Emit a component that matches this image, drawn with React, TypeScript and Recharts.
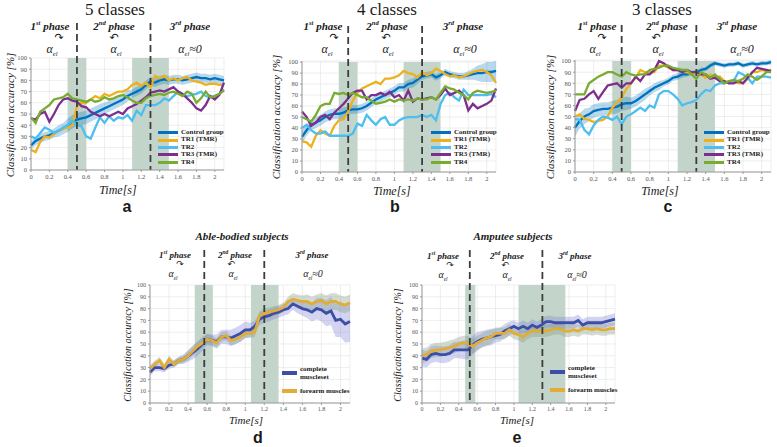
import React from "react";
import {
  ComposedChart,
  Line,
  Area,
  XAxis,
  YAxis,
  CartesianGrid,
  ReferenceArea,
  ReferenceLine,
  Legend,
} from "recharts";

const FONT = '"Liberation Serif", "DejaVu Serif", serif';

// time axis, seconds
const time = [
  0, 0.05, 0.1, 0.15, 0.2, 0.25, 0.3, 0.35, 0.4, 0.45, 0.5, 0.55, 0.6, 0.65, 0.7, 0.75, 0.8, 0.85, 0.9, 0.95, 1,
  1.05, 1.1, 1.15, 1.2, 1.25, 1.3, 1.35, 1.4, 1.45, 1.5, 1.55, 1.6, 1.65, 1.7, 1.75, 1.8, 1.85, 1.9, 1.95, 2, 2.05, 2.1,
];
const xTicks = [0, 0.2, 0.4, 0.6, 0.8, 1, 1.2, 1.4, 1.6, 1.8, 2];
const yTicks = [0, 10, 20, 30, 40, 50, 60, 70, 80, 90, 100];

// 5 classes
const aControl = [22, 26, 28, 30, 31, 33, 35, 37, 40, 43, 45, 46, 47, 49, 51, 53, 55, 57, 59, 61, 63, 66, 68, 70, 72, 76, 79, 78, 80, 81, 80, 81, 81, 80, 81, 82, 83, 82, 82, 81, 82, 81, 80];
const aControlSpread = [4, 4, 4, 4, 4, 4, 5, 5, 6, 6, 6, 6, 6, 6, 6, 6, 5, 5, 5, 5, 5, 5, 4, 4, 4, 4, 4, 4, 4, 4, 4, 4, 4, 4, 4, 4, 4, 4, 4, 4, 4, 4, 4];
const aTR1 = [18, 16, 25, 30, 29, 32, 35, 37, 38, 40, 57, 60, 60, 63, 66, 64, 68, 66, 68, 70, 70, 72, 76, 78, 75, 78, 74, 84, 82, 84, 80, 82, 80, 82, 83, 80, 79, 78, 76, 77, 77, 76, 76];
const aTR2 = [30, 28, 33, 38, 36, 33, 35, 38, 40, 44, 40, 39, 30, 28, 38, 47, 42, 48, 44, 47, 46, 49, 44, 53, 49, 58, 58, 58, 60, 64, 62, 66, 70, 67, 66, 67, 68, 70, 66, 65, 66, 68, 72];
const aTR3 = [46, 45, 50, 52, 43, 50, 58, 63, 64, 62, 61, 57, 56, 52, 50, 48, 50, 48, 50, 52, 50, 55, 57, 59, 62, 65, 69, 70, 71, 70, 72, 74, 70, 68, 64, 60, 55, 53, 58, 66, 63, 67, 78];
const aTR4 = [47, 42, 52, 55, 58, 63, 64, 65, 68, 64, 63, 62, 61, 63, 61, 62, 65, 63, 64, 66, 67, 65, 62, 60, 60, 64, 66, 67, 68, 67, 69, 70, 68, 66, 70, 68, 60, 64, 70, 65, 66, 68, 71];

// 4 classes
const bControl = [32, 38, 43, 45, 47, 50, 52, 53, 53, 54, 56, 57, 57, 58, 60, 63, 66, 68, 70, 72, 74, 77, 77, 80, 81, 84, 87, 88, 89, 86, 88, 91, 89, 88, 87, 87, 88, 89, 90, 90, 91, 91, 92];
const bControlSpread = [6, 5, 5, 5, 5, 5, 5, 5, 5, 5, 4, 4, 4, 4, 4, 4, 4, 4, 4, 4, 4, 4, 4, 4, 4, 4, 3, 3, 3, 3, 3, 3, 3, 3, 3, 3, 4, 5, 7, 8, 9, 9, 9];
const bTR1 = [28, 27, 23, 33, 38, 35, 33, 42, 47, 48, 55, 65, 72, 76, 78, 80, 82, 80, 85, 85, 86, 88, 92, 90, 89, 86, 91, 88, 90, 94, 92, 89, 87, 88, 86, 87, 89, 91, 92, 93, 91, 88, 81];
const bTR2 = [40, 43, 38, 35, 35, 37, 33, 33, 33, 33, 33, 35, 44, 42, 52, 47, 43, 48, 50, 43, 43, 47, 49, 50, 50, 50, 52, 50, 52, 47, 62, 70, 72, 68, 65, 75, 70, 70, 70, 70, 70, 71, 68];
const bTR3 = [55, 50, 42, 45, 50, 52, 48, 54, 58, 62, 67, 72, 74, 74, 66, 70, 70, 72, 70, 73, 68, 70, 65, 74, 64, 67, 66, 67, 68, 66, 70, 76, 70, 72, 74, 70, 56, 62, 58, 60, 62, 65, 76];
const bTR4 = [50, 48, 46, 52, 60, 62, 62, 72, 71, 72, 70, 72, 70, 68, 68, 65, 62, 63, 64, 66, 64, 66, 65, 66, 65, 67, 66, 66, 68, 66, 72, 78, 76, 75, 72, 70, 66, 72, 74, 73, 72, 73, 74];

// 3 classes
const cControl = [40, 46, 50, 52, 55, 56, 57, 57, 58, 59, 61, 62, 62, 64, 67, 70, 73, 76, 78, 80, 82, 85, 86, 88, 88, 89, 90, 92, 93, 96, 98, 97, 96, 97, 97, 98, 96, 97, 98, 97, 98, 98, 99];
const cControlSpread = [8, 7, 7, 6, 6, 6, 6, 6, 6, 6, 6, 6, 5, 5, 5, 5, 4, 4, 4, 3, 3, 3, 3, 3, 2, 2, 2, 2, 2, 2, 2, 2, 2, 2, 2, 2, 2, 2, 2, 2, 2, 2, 2];
const cTR1 = [50, 52, 48, 47, 45, 46, 47, 50, 58, 63, 67, 75, 80, 85, 92, 90, 90, 90, 96, 96, 94, 92, 92, 92, 90, 88, 90, 88, 85, 88, 85, 86, 82, 80, 82, 80, 80, 84, 90, 90, 92, 91, 92];
const cTR2 = [48, 47, 38, 34, 42, 47, 50, 49, 47, 50, 43, 50, 52, 55, 58, 55, 60, 58, 70, 73, 73, 70, 66, 60, 62, 63, 65, 70, 74, 73, 78, 80, 80, 82, 82, 90, 88, 85, 80, 86, 86, 86, 85];
const cTR3 = [55, 65, 66, 70, 73, 66, 72, 78, 79, 80, 76, 80, 80, 86, 82, 88, 88, 92, 100, 98, 95, 92, 92, 90, 92, 90, 90, 88, 88, 84, 85, 82, 82, 80, 80, 82, 80, 85, 90, 94, 93, 92, 91];
const cTR4 = [70, 70, 70, 80, 83, 86, 88, 90, 90, 88, 86, 90, 88, 87, 88, 88, 92, 93, 94, 96, 96, 94, 93, 92, 92, 88, 84, 90, 88, 85, 88, 84, 80, 82, 83, 82, 84, 88, 86, 83, 86, 90, 90];

// able-bodied subjects
const dComplete = [26, 30, 30, 29, 32, 33, 36, 37, 40, 43, 46, 50, 54, 53, 52, 56, 56, 55, 57, 59, 62, 62, 65, 71, 73, 74, 76, 77, 79, 80, 84, 82, 80, 79, 77, 80, 79, 76, 78, 70, 71, 67, 69];
const dCompleteSpread = [3, 3, 3, 3, 3, 3, 3, 4, 5, 6, 6, 6, 5, 5, 6, 6, 6, 7, 7, 7, 7, 6, 5, 5, 5, 5, 5, 5, 5, 5, 5, 6, 6, 7, 8, 9, 10, 11, 12, 14, 15, 16, 17];
const dForearm = [29, 33, 36, 30, 37, 33, 36, 37, 40, 44, 48, 51, 54, 53, 51, 56, 57, 53, 54, 56, 59, 59, 60, 74, 76, 77, 78, 79, 81, 86, 88, 87, 86, 86, 84, 86, 87, 84, 86, 86, 84, 83, 85];
const dForearmSpread = [3, 3, 3, 3, 3, 3, 3, 3, 4, 4, 4, 4, 4, 4, 4, 4, 4, 4, 4, 4, 4, 4, 4, 4, 4, 4, 4, 4, 4, 4, 5, 5, 5, 6, 6, 6, 6, 7, 7, 7, 7, 7, 7];

// amputee subjects
const eComplete = [38, 37, 41, 42, 41, 41, 42, 45, 45, 45, 45, 49, 52, 54, 55, 56, 57, 58, 61, 63, 65, 63, 65, 63, 66, 64, 66, 69, 69, 68, 68, 68, 68, 68, 70, 66, 68, 68, 68, 68, 69, 70, 71];
const eCompleteSpread = [7, 7, 7, 7, 7, 7, 7, 7, 7, 8, 8, 8, 8, 7, 7, 7, 6, 6, 6, 6, 5, 5, 5, 5, 5, 5, 5, 5, 5, 5, 5, 5, 5, 5, 5, 5, 5, 5, 5, 5, 5, 5, 5];
const eForearm = [40, 41, 44, 45, 45, 46, 47, 48, 50, 51, 51, 48, 51, 53, 55, 56, 59, 59, 59, 62, 59, 58, 56, 59, 61, 61, 61, 61, 62, 63, 63, 61, 61, 62, 61, 63, 63, 62, 63, 62, 62, 63, 63];
const eForearmSpread = [6, 6, 6, 6, 6, 6, 6, 6, 6, 6, 6, 6, 6, 6, 6, 6, 5, 5, 5, 5, 5, 5, 5, 5, 5, 5, 5, 5, 5, 5, 5, 5, 5, 5, 5, 5, 5, 5, 5, 5, 5, 5, 5];

const groupNames = ["Control group", "TR1 (TMR)", "TR2", "TR3 (TMR)", "TR4"];
const groupColors = ["#0072BD", "#EDB120", "#4DBEEE", "#7E2F8E", "#77AC30"];
const muscleNames = ["complete\nmuscleset", "forearm muscles"];
const muscleColors = ["#3C4EA8", "#E3AC37"];
const muscleBandColors = ["#7E84D8", "#7F9A80"];

type Series = { name: string; values: number[]; color: string };
type Band = { values: number[]; spread: number[]; color: string; opacity: number };

const YW = 30;
const TOP = 40;
const XH = 16;
const RIGHT = 4;

function Panel(props: {
  plot: [number, number, number, number];
  series: Series[];
  bands: Band[];
  shades: [number, number][];
  dashes: number[];
  legendAt: [number, number];
  lineWidth: number;
  small?: boolean;
}) {
  const [x0, x1, y0, y1] = props.plot;
  const left = x0 - YW;
  const top = y0 - TOP;
  const width = YW + (x1 - x0) + RIGHT;
  const height = TOP + (y1 - y0) + XH;
  const ext = TOP - 5;

  const rows = time.map((t, i) => {
    const r: any = { t };
    props.series.forEach((s, k) => (r["s" + k] = s.values[i]));
    props.bands.forEach((b, k) => (r["b" + k] = [b.values[i] - b.spread[i], b.values[i] + b.spread[i]]));
    return r;
  });

  const tickStyle = { fontSize: props.small ? 6 : 6.5, fill: "#555", fontFamily: FONT };
  const order = props.series.map((s) => s.name);

  const legendContent = (p: any) => {
    const items = (p.payload || [])
      .filter((it: any) => it.type !== "none")
      .sort((a: any, b: any) => order.indexOf(a.value) - order.indexOf(b.value));
    return (
      <div style={{ fontFamily: FONT, fontWeight: 700, fontSize: 7, color: "#222", lineHeight: props.small ? "8px" : "7.4px" }}>
        {items.map((it: any) => (
          <div key={it.value} style={{ display: "flex", alignItems: "center", marginBottom: props.small ? 6 : 0 }}>
            <div style={{ width: props.small ? 15 : 20, height: props.small ? 4 : 3, background: it.color, marginRight: 3, flex: "none" }} />
            <div style={{ whiteSpace: "pre" }}>{it.value}</div>
          </div>
        ))}
      </div>
    );
  };

  return (
    <div style={{ position: "absolute", left, top }}>
      <ComposedChart width={width} height={height} data={rows} margin={{ top: TOP, right: RIGHT, bottom: 0, left: 0 }}>
        <CartesianGrid stroke="#e6e6e6" strokeWidth={0.7} />
        {props.shades.map(([a, b], i) => (
          <ReferenceArea key={"sh" + i} x1={a} x2={b} y1={0} y2={100} fill="#c3d5ca" fillOpacity={1} stroke="none" />
        ))}
        <XAxis
          dataKey="t"
          type="number"
          domain={[0, 2.1]}
          ticks={xTicks}
          interval={0}
          height={XH}
          tick={tickStyle}
          tickSize={2}
          stroke="#9a9a9a"
          tickFormatter={(v: number) => String(v)}
        />
        <YAxis
          type="number"
          domain={[0, 100]}
          ticks={yTicks}
          interval={0}
          width={YW}
          tick={tickStyle}
          tickSize={2}
          stroke="#9a9a9a"
        />
        {props.bands.map((b, i) => (
          <Area
            key={"b" + i}
            dataKey={"b" + i}
            type="linear"
            stroke="none"
            fill={b.color}
            fillOpacity={b.opacity}
            legendType="none"
            dot={false}
            activeDot={false}
            isAnimationActive={false}
          />
        ))}
        {props.series.map((s, i) => (
          <Line
            key={"s" + i}
            dataKey={"s" + i}
            name={s.name}
            type="linear"
            stroke={s.color}
            strokeWidth={props.lineWidth}
            dot={false}
            activeDot={false}
            isAnimationActive={false}
          />
        ))}
        {props.dashes.map((d, i) => (
          <ReferenceLine
            key={"d" + i}
            x={d}
            stroke="#3d3d3d"
            strokeWidth={1.8}
            strokeDasharray="7 4"
            shape={(p: any) => (
              <line
                x1={p.x1}
                x2={p.x2}
                y1={Math.min(p.y1, p.y2) - ext}
                y2={Math.max(p.y1, p.y2)}
                stroke="#3d3d3d"
                strokeWidth={1.8}
                strokeDasharray="7 4"
              />
            )}
          />
        ))}
        <Legend
          layout="vertical"
          align="center"
          verticalAlign="middle"
          content={legendContent}
          wrapperStyle={{ left: props.legendAt[0] - left, top: props.legendAt[1] - top, width: "auto", height: "auto" }}
        />
      </ComposedChart>
    </div>
  );
}

function T(props: { x: number; y: number; size: number; bold?: boolean; italic?: boolean; sans?: boolean; rotate?: boolean; children: React.ReactNode }) {
  return (
    <div
      style={{
        position: "absolute",
        left: props.x,
        top: props.y,
        transform: `translate(-50%, -50%)${props.rotate ? " rotate(-90deg)" : ""}`,
        whiteSpace: "nowrap",
        fontFamily: props.sans ? '"Liberation Sans", Arial, sans-serif' : FONT,
        fontSize: props.size,
        fontWeight: props.bold ? 700 : 400,
        fontStyle: props.italic ? "italic" : "normal",
        color: "#1a1a1a",
        lineHeight: 1,
      }}
    >
      {props.children}
    </div>
  );
}

const Alpha = ({ zero }: { zero?: boolean }) => (
  <span>
    α<sub style={{ fontSize: "0.55em", lineHeight: 0 }}>el</sub>
    {zero ? "≈0" : null}
  </span>
);

function Header(props: { phaseX: number[]; alphaX: number[]; phaseY: number; size: number }) {
  const { phaseX, alphaX, phaseY, size } = props;
  const aY = phaseY + (size > 10 ? 23 : 19);
  const arrowY = aY - (size > 10 ? 12 : 10);
  const arrow = { fontFamily: '"DejaVu Sans", sans-serif', fontSize: size };
  return (
    <>
      <T x={phaseX[0]} y={phaseY} size={size} bold italic>
        1<sup style={{ fontSize: "0.6em", lineHeight: 0 }}>st</sup> phase
      </T>
      <T x={phaseX[1]} y={phaseY} size={size} bold italic>
        2<sup style={{ fontSize: "0.6em", lineHeight: 0 }}>nd</sup> phase
      </T>
      <T x={phaseX[2]} y={phaseY} size={size} bold italic>
        3<sup style={{ fontSize: "0.6em", lineHeight: 0 }}>rd</sup> phase
      </T>
      <T x={alphaX[0] + 7} y={arrowY} size={size}>
        <span style={arrow}>↷</span>
      </T>
      <T x={alphaX[1] - 2} y={arrowY} size={size}>
        <span style={arrow}>↶</span>
      </T>
      <T x={alphaX[0]} y={aY} size={size + 1} italic>
        <Alpha />
      </T>
      <T x={alphaX[1]} y={aY} size={size + 1} italic>
        <Alpha />
      </T>
      <T x={alphaX[2]} y={aY} size={size + 1} italic>
        <Alpha zero />
      </T>
    </>
  );
}

const groupSeries = (vals: number[][]): Series[] =>
  vals.map((v, i) => ({ name: groupNames[i], values: v, color: groupColors[i] }));
const muscleSeries = (vals: number[][]): Series[] =>
  vals.map((v, i) => ({ name: muscleNames[i], values: v, color: muscleColors[i] }));

export default function App() {
  return (
    <div style={{ position: "absolute", left: 0, top: 0, width: 777, height: 447, overflow: "hidden", background: "#fff" }}>
      {/* a */}
      <Panel
        plot={[31, 224, 58, 170]}
        series={groupSeries([aControl, aTR1, aTR2, aTR3, aTR4])}
        bands={[{ values: aControl, spread: aControlSpread, color: "#0072BD", opacity: 0.28 }]}
        shades={[[0.4, 0.6], [1.1, 1.5]]}
        dashes={[0.5, 1.3]}
        legendAt={[158, 129]}
        lineWidth={2.3}
      />
      {/* b */}
      <Panel
        plot={[302, 496, 61, 172]}
        series={groupSeries([bControl, bTR1, bTR2, bTR3, bTR4])}
        bands={[{ values: bControl, spread: bControlSpread, color: "#0072BD", opacity: 0.28 }]}
        shades={[[0.4, 0.6], [1.1, 1.5]]}
        dashes={[0.5, 1.3]}
        legendAt={[431, 129]}
        lineWidth={2.3}
      />
      {/* c */}
      <Panel
        plot={[575, 771, 60, 172]}
        series={groupSeries([cControl, cTR1, cTR2, cTR3, cTR4])}
        bands={[{ values: cControl, spread: cControlSpread, color: "#0072BD", opacity: 0.28 }]}
        shades={[[0.4, 0.6], [1.1, 1.5]]}
        dashes={[0.5, 1.3]}
        legendAt={[704, 129]}
        lineWidth={2.3}
      />
      {/* d */}
      <Panel
        plot={[150, 350, 285, 403]}
        series={muscleSeries([dComplete, dForearm])}
        bands={[
          { values: dComplete, spread: dCompleteSpread, color: muscleBandColors[0], opacity: 0.35 },
          { values: dForearm, spread: dForearmSpread, color: muscleBandColors[1], opacity: 0.35 },
        ]}
        shades={[[0.47, 0.66], [1.06, 1.35]]}
        dashes={[0.57, 1.2]}
        legendAt={[282, 365]}
        lineWidth={2.8}
        small
      />
      {/* e */}
      <Panel
        plot={[422, 615, 285, 403]}
        series={muscleSeries([eComplete, eForearm])}
        bands={[
          { values: eComplete, spread: eCompleteSpread, color: muscleBandColors[0], opacity: 0.35 },
          { values: eForearm, spread: eForearmSpread, color: muscleBandColors[1], opacity: 0.35 },
        ]}
        shades={[[0.47, 0.58], [1.05, 1.56]]}
        dashes={[0.52, 1.31]}
        legendAt={[550, 364]}
        lineWidth={2.8}
        small
      />

      {/* titles */}
      <T x={115} y={9} size={17}>5 classes</T>
      <T x={387} y={9} size={17}>4 classes</T>
      <T x={662} y={9} size={17}>3 classes</T>
      <T x={242} y={236} size={11} bold italic>Able-bodied subjects</T>
      <T x={513} y={236} size={11} bold italic>Amputee subjects</T>

      <Header phaseX={[50, 114, 190]} alphaX={[52, 116, 190]} phaseY={26} size={11} />
      <Header phaseX={[323, 387, 463]} alphaX={[327, 388, 465]} phaseY={26} size={11} />
      <Header phaseX={[597, 667, 737]} alphaX={[595, 658, 742]} phaseY={26} size={11} />
      <Header phaseX={[175, 235, 312]} alphaX={[173, 233, 313]} phaseY={255} size={9} />
      <Header phaseX={[443, 507, 575]} alphaX={[443, 507, 577]} phaseY={256} size={9} />

      {/* axis titles */}
      <T x={10} y={115} size={11} italic rotate>Classification accuracy [%]</T>
      <T x={276} y={117} size={11} italic rotate>Classification accuracy [%]</T>
      <T x={550} y={117} size={11} italic rotate>Classification accuracy [%]</T>
      <T x={128} y={345} size={10} italic rotate>Classification accuracy [%]</T>
      <T x={398} y={345} size={10} italic rotate>Classification accuracy [%]</T>
      <T x={118} y={190} size={12} italic>Time[s]</T>
      <T x={392} y={191} size={12} italic>Time[s]</T>
      <T x={660} y={191} size={12} italic>Time[s]</T>
      <T x={246} y={420} size={11} italic>Time[s]</T>
      <T x={517} y={420} size={11} italic>Time[s]</T>

      {/* panel letters */}
      <T x={127} y={207} size={16} bold sans>a</T>
      <T x={395} y={207} size={16} bold sans>b</T>
      <T x={668} y={207} size={16} bold sans>c</T>
      <T x={258} y={438} size={16} bold sans>d</T>
      <T x={517} y={438} size={16} bold sans>e</T>
    </div>
  );
}
